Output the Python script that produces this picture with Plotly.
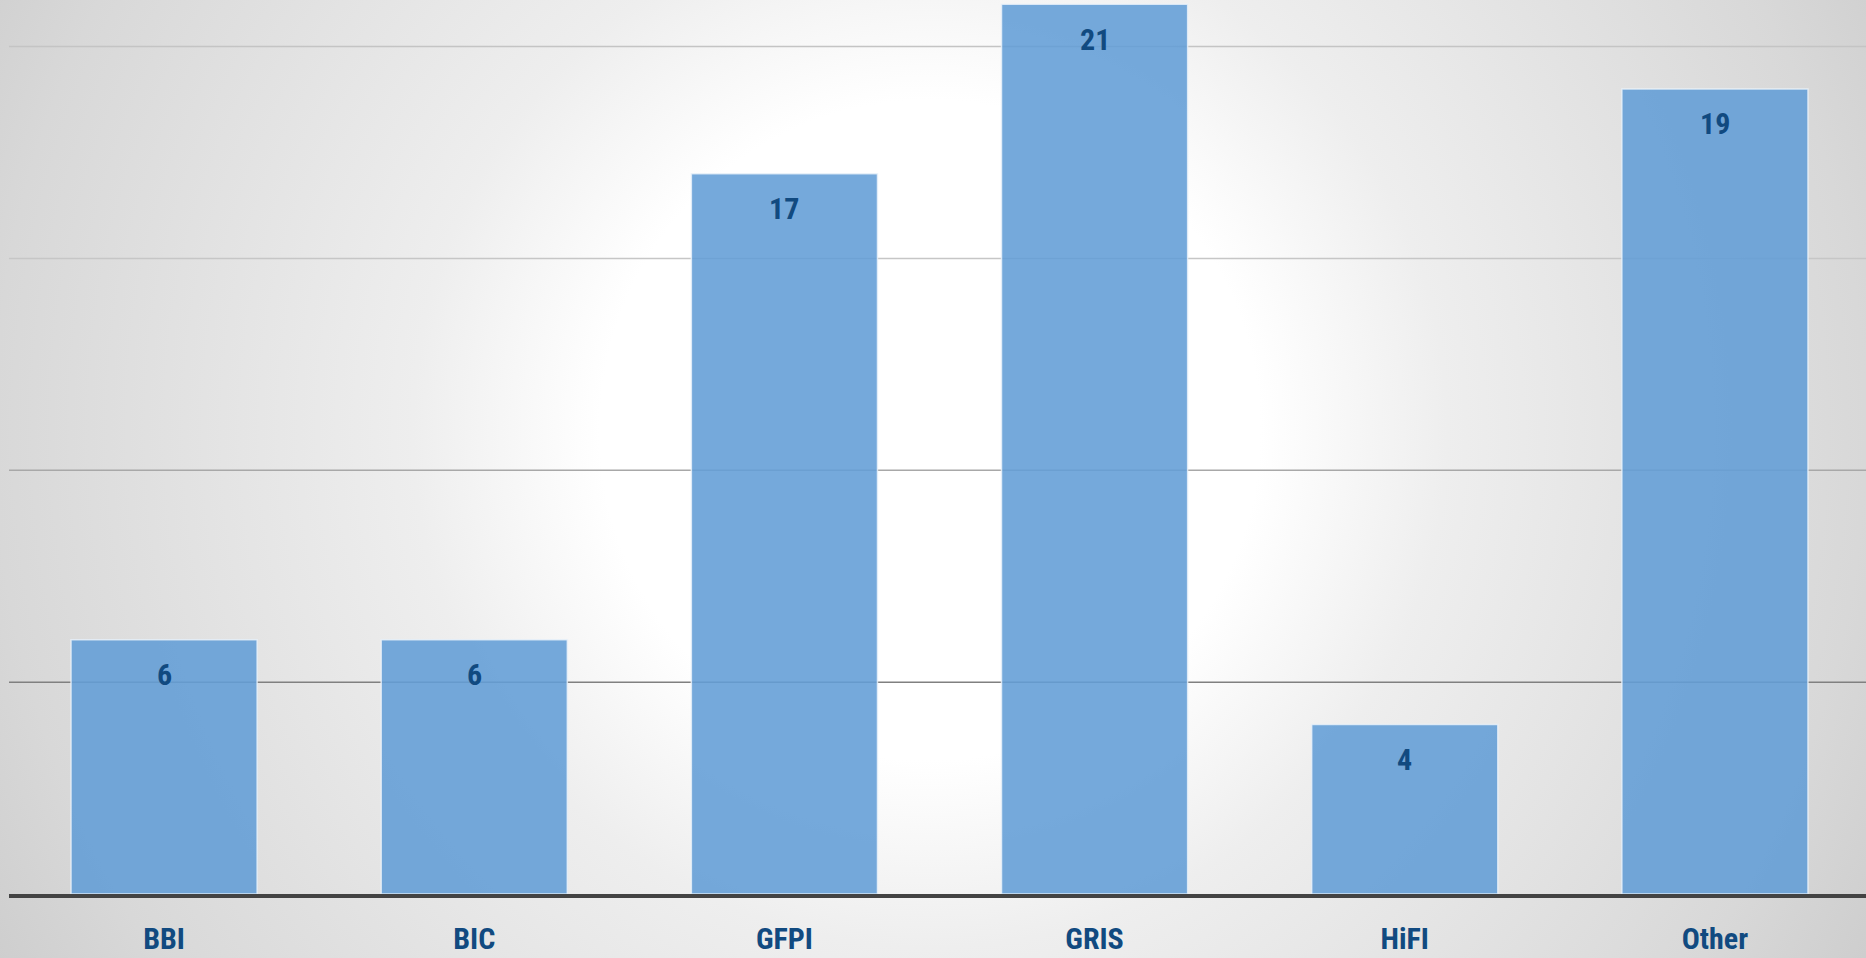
import plotly.graph_objects as go
import urllib.parse

categories = ["BBI", "BIC", "GFPI", "GRIS", "HiFI", "Other"]
values = [6, 6, 17, 21, 4, 19]
grid_values = [5, 10, 15, 20]
grid_colors = ["#808080", "#a8a8a8", "#c6c6c6", "#c4c4c4"]

W, H = 1870, 958
L, R, T, B = 9, 0, 0, 64
label_color = "#114a80"
font_family = "Liberation Sans Narrow, Roboto Condensed, Open Sans, sans-serif"

svg = (
    f'<svg xmlns="http://www.w3.org/2000/svg" width="{W}" height="{H}" viewBox="0 0 {W} {H}" preserveAspectRatio="none">'
    '<defs><radialGradient id="g" gradientUnits="userSpaceOnUse" cx="930" cy="430" r="1100">'
    '<stop offset="0.3" stop-color="#ffffff"/>'
    '<stop offset="0.47" stop-color="#eeeeee"/>'
    '<stop offset="0.85" stop-color="#d8d8d8"/>'
    '<stop offset="1" stop-color="#cccccc"/>'
    '</radialGradient></defs>'
    f'<rect x="0" y="0" width="{W}" height="{H}" fill="url(#g)"/></svg>'
)
bg_src = "data:image/svg+xml;charset=utf-8," + urllib.parse.quote(svg)

pw = W - L - R
ph = H - T - B

fig = go.Figure()
fig.add_trace(go.Bar(
    x=categories, y=values,
    marker=dict(color="rgba(98,157,214,0.88)", line=dict(color="rgba(235,242,250,0.8)", width=1.5)),
    hoverinfo="skip",
))

for c, v in zip(categories, values):
    fig.add_annotation(x=c, y=v, text=str(v), showarrow=False, yshift=-35,
                       font=dict(family=font_family, size=30, color=label_color, weight="bold"))

shapes = []
for gv, gc in zip(grid_values, grid_colors):
    shapes.append(dict(type="line", xref="paper", yref="y", x0=0, x1=1, y0=gv, y1=gv,
                       line=dict(color=gc, width=1.5), layer="below"))

fig.update_layout(
    width=W, height=H,
    margin=dict(l=L, r=R, t=T, b=B, pad=0, autoexpand=False),
    paper_bgcolor="#d8d8d8",
    plot_bgcolor="rgba(0,0,0,0)",
    bargap=0.4,
    showlegend=False,
    shapes=shapes,
    images=[dict(source=bg_src, xref="paper", yref="paper",
                 x=-L / pw, y=1 + T / ph, sizex=W / pw, sizey=H / ph,
                 xanchor="left", yanchor="top", sizing="stretch", layer="below")],
    xaxis=dict(showgrid=False, zeroline=False, showline=True, linecolor="#434343", linewidth=4,
               ticks="", automargin=False,
               tickfont=dict(family=font_family, size=30, color=label_color, weight="bold"),
               ticklabelstandoff=15),
    yaxis=dict(range=[0, 21.1], showgrid=False, zeroline=False, showticklabels=False,
               showline=False, ticks="", automargin=False),
)

fig.write_html("out.html", config={"displayModeBar": False},
               post_script="document.body.style.margin='0';document.body.style.overflow='hidden';")
